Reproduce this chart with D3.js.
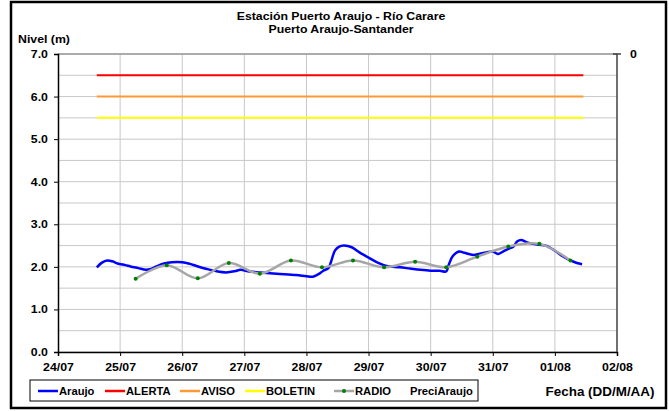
<!DOCTYPE html>
<html>
<head>
<meta charset="utf-8">
<script src="https://cdn.jsdelivr.net/npm/d3@7"></script>
<style>
  body { margin: 0; background: #fff; }
  text { font-family: "Liberation Sans", Arial, sans-serif; font-weight: bold; }
</style>
</head>
<body>
<svg id="chart" width="669" height="411"></svg>
<script>
// Araujo level readings (m)
const araujoTimes = [
    "24/07 15:00", "24/07 17:00", "24/07 19:00", "24/07 21:00", "24/07 23:00",
    "25/07 02:00", "25/07 04:00", "25/07 07:00", "25/07 10:00", "25/07 12:00",
    "25/07 14:00", "25/07 17:00", "25/07 20:00", "26/07 00:00", "26/07 03:00",
    "26/07 05:30", "26/07 09:30", "26/07 13:00", "26/07 17:00", "26/07 20:30",
    "26/07 22:30", "27/07 02:00", "27/07 06:00", "27/07 12:30", "27/07 20:00",
    "28/07 00:00", "28/07 02:30", "28/07 05:00", "28/07 06:30", "28/07 08:30",
    "28/07 09:30", "28/07 11:00", "28/07 12:30", "28/07 14:30", "28/07 17:30",
    "28/07 20:30", "29/07 00:30", "29/07 03:30", "29/07 07:00", "29/07 12:00",
    "29/07 16:00", "29/07 20:00", "30/07 00:00", "30/07 03:30", "30/07 06:00",
    "30/07 07:00", "30/07 08:30", "30/07 11:00", "30/07 13:00", "30/07 16:30",
    "30/07 19:00", "30/07 21:30", "31/07 00:00", "31/07 02:00", "31/07 04:00",
    "31/07 06:00", "31/07 08:00", "31/07 09:30", "31/07 11:00", "31/07 13:00",
    "31/07 15:30", "31/07 18:00", "31/07 20:30", "01/08 00:00", "01/08 03:00",
    "01/08 06:00", "01/08 08:30", "01/08 10:30"
];
const araujoLevels = [
    1.99, 2.10, 2.15, 2.13, 2.08,
    2.04, 2.01, 1.97, 1.93, 1.95,
    2.01, 2.08, 2.11, 2.11, 2.07,
    2.02, 1.95, 1.90, 1.87, 1.90,
    1.93, 1.89, 1.87, 1.84, 1.81,
    1.78, 1.77, 1.84, 1.91, 1.97,
    2.12, 2.38, 2.47, 2.50, 2.46,
    2.34, 2.20, 2.10, 2.02, 1.99,
    1.96, 1.93, 1.91, 1.91, 1.89,
    2.05, 2.25, 2.36, 2.33, 2.28,
    2.31, 2.34, 2.36, 2.30, 2.36,
    2.42, 2.48, 2.60, 2.63, 2.58,
    2.54, 2.52, 2.50, 2.38, 2.25,
    2.15, 2.09, 2.06
];

// RADIO readings every 12 h
const radioTimes = [
    "25/07 06:00", "25/07 18:00", "26/07 06:00", "26/07 18:00", "27/07 06:00",
    "27/07 18:00", "28/07 06:00", "28/07 18:00", "29/07 06:00", "29/07 18:00",
    "30/07 06:00", "30/07 18:00", "31/07 06:00", "31/07 18:00", "01/08 06:00"
];
const radioLevels = [
    1.72, 2.04, 1.73, 2.09, 1.84,
    2.15, 1.99, 2.15, 1.99, 2.12,
    1.99, 2.24, 2.48, 2.54, 2.15
];

// threshold levels
const thresholdNames = ["ALERTA", "AVISO", "BOLETIN"];
const thresholdLevels = [6.5, 6.0, 5.5];
const thresholdSpan = ["24/07 15:00", "01/08 11:00"];

const xTickLabels = ["24/07", "25/07", "26/07", "27/07", "28/07", "29/07", "30/07", "31/07", "01/08", "02/08"];
const legendNames = ["Araujo", "ALERTA", "AVISO", "BOLETIN", "RADIO", "PreciAraujo"];

const colours = {
    Araujo: "#0000ff",
    ALERTA: "#ff0000",
    AVISO: "#ff9933",
    BOLETIN: "#ffff00",
    RADIO: "#a6a6a6",
};

const stretch = 1.12; // the original text is a bit wider than Arial bold

const parse = d3.timeParse("%d/%m %H:%M");
const parseDay = d3.timeParse("%d/%m");

const svg = d3.select("#chart");

// helper for stretched text
const addText = (parent, str, tx, ty, size, anchor) =>
    parent.append("text")
        .attr("transform", `translate(${tx},${ty}) scale(${stretch},1)`)
        .attr("text-anchor", anchor || "start")
        .style("font-size", size + "px")
        .text(str);

// outer frame
svg.append("rect")
    .attr("x", 11).attr("y", 2)
    .attr("width", 655).attr("height", 406)
    .attr("fill", "#fff")
    .attr("stroke", "#000")
    .attr("stroke-width", 2.5);

const plotLeft = 58, plotRight = 617, plotTop = 54, plotBottom = 352;

const x = d3.scaleTime()
    .domain([parseDay("24/07"), parseDay("02/08")])
    .range([plotLeft, plotRight]);
const y = d3.scaleLinear().domain([0, 7]).range([plotBottom, plotTop]);

// grid
const grid = svg.append("g").attr("stroke", "#c8c8c8").attr("stroke-width", 1);
grid.selectAll("line.h")
    .data(d3.range(0, 7.01, 0.5))
    .join("line")
    .attr("class", "h")
    .attr("x1", plotLeft).attr("x2", plotRight)
    .attr("y1", (d) => y(d)).attr("y2", (d) => y(d));
grid.selectAll("line.v")
    .data(xTickLabels.slice(1, -1).map(parseDay))
    .join("line")
    .attr("class", "v")
    .attr("x1", (d) => x(d)).attr("x2", (d) => x(d))
    .attr("y1", plotTop).attr("y2", plotBottom);

// top border of plot
svg.append("line")
    .attr("x1", plotLeft).attr("x2", plotRight)
    .attr("y1", plotTop).attr("y2", plotTop)
    .attr("stroke", "#999").attr("stroke-width", 1.5);

// thresholds
svg.append("g")
    .selectAll("line")
    .data(thresholdLevels)
    .join("line")
    .attr("x1", x(parse(thresholdSpan[0])))
    .attr("x2", x(parse(thresholdSpan[1])))
    .attr("y1", (d) => y(d)).attr("y2", (d) => y(d))
    .attr("stroke", (d, i) => colours[thresholdNames[i]])
    .attr("stroke-width", 2);

const radio = radioTimes.map((t, i) => ({ t: parse(t), v: radioLevels[i] }));
const araujo = araujoTimes.map((t, i) => ({ t: parse(t), v: araujoLevels[i] }));

const line = d3.line()
    .x((d) => x(d.t))
    .y((d) => y(d.v))
    .curve(d3.curveCatmullRom.alpha(0.5));

svg.append("path")
    .datum(araujo)
    .attr("d", line)
    .attr("fill", "none")
    .attr("stroke", colours.Araujo)
    .attr("stroke-width", 2.5)
    .attr("stroke-linejoin", "round");

svg.append("path")
    .datum(radio)
    .attr("d", line)
    .attr("fill", "none")
    .attr("stroke", colours.RADIO)
    .attr("stroke-width", 2.5);

svg.append("g")
    .selectAll("circle")
    .data(radio)
    .join("circle")
    .attr("cx", (d) => x(d.t))
    .attr("cy", (d) => y(d.v))
    .attr("r", 2)
    .attr("fill", "#008000");

// axes
const yAxis = svg.append("g")
    .attr("transform", `translate(${plotLeft},0)`)
    .call(d3.axisLeft(y).tickValues(d3.range(0, 8)).tickFormat(d3.format(".1f")).tickSize(4).tickPadding(5));
const xAxis = svg.append("g")
    .attr("transform", `translate(0,${plotBottom})`)
    .call(d3.axisBottom(x).tickValues(xTickLabels.map(parseDay)).tickFormat(d3.timeFormat("%d/%m")).tickSize(4).tickPadding(5));

[yAxis, xAxis].forEach((g) => {
    g.select(".domain").attr("stroke", "#000").attr("stroke-width", 1.5);
    g.selectAll(".tick line").attr("stroke", "#000");
    g.selectAll("text")
        .attr("fill", "#000")
        .attr("transform", `scale(${stretch},1)`)
        .style("font-size", "11px")
        .style("font-family", "Liberation Sans, Arial, sans-serif")
        .style("font-weight", "bold");
});
xAxis.selectAll("text").attr("dy", "0.95em");

// secondary axis (PreciAraujo)
const y2 = d3.scaleLinear().domain([0, 1]).range([plotTop, plotTop - 1]);
const y2Axis = svg.append("g")
    .attr("transform", `translate(${plotRight},0)`);
y2Axis.append("line")
    .attr("x1", 0).attr("x2", 0)
    .attr("y1", plotTop).attr("y2", plotBottom)
    .attr("stroke", "#404040").attr("stroke-width", 1.5);
y2Axis.append("line")
    .attr("x1", -4).attr("x2", 4)
    .attr("y1", y2(0)).attr("y2", y2(0))
    .attr("stroke", "#404040").attr("stroke-width", 1.5);
addText(y2Axis, "0", 13, y2(0) + 4, 11);

// titles
addText(svg, "Estación Puerto Araujo - Río Carare", 341, 19.5, 11, "middle");
addText(svg, "Puerto Araujo-Santander", 341, 33, 11, "middle");
addText(svg, "Nivel (m)", 18, 43, 11);
addText(svg, "Fecha (DD/M/AA)", 600, 396, 12, "middle");

// legend
const legend = svg.append("g");
legend.append("rect")
    .attr("x", 30).attr("y", 380)
    .attr("width", 448).attr("height", 21)
    .attr("fill", "#fff")
    .attr("stroke", "#000").attr("stroke-width", 1);

const legendX = [38, 105, 180, 245, 334, 410];
const items = legend.selectAll("g.item")
    .data(legendNames)
    .join("g")
    .attr("class", "item")
    .attr("transform", (d, i) => `translate(${legendX[i]},391)`);

items.filter((d) => colours[d])
    .append("line")
    .attr("x1", 0).attr("x2", 20)
    .attr("stroke", (d) => colours[d])
    .attr("stroke-width", 2.5);
items.filter((d) => d === "RADIO")
    .append("circle")
    .attr("cx", 10).attr("r", 2)
    .attr("fill", "#008000");
items.each(function (d) {
    addText(d3.select(this), d, colours[d] ? 21 : 0, 4, 10);
});
</script>
</body>
</html>
